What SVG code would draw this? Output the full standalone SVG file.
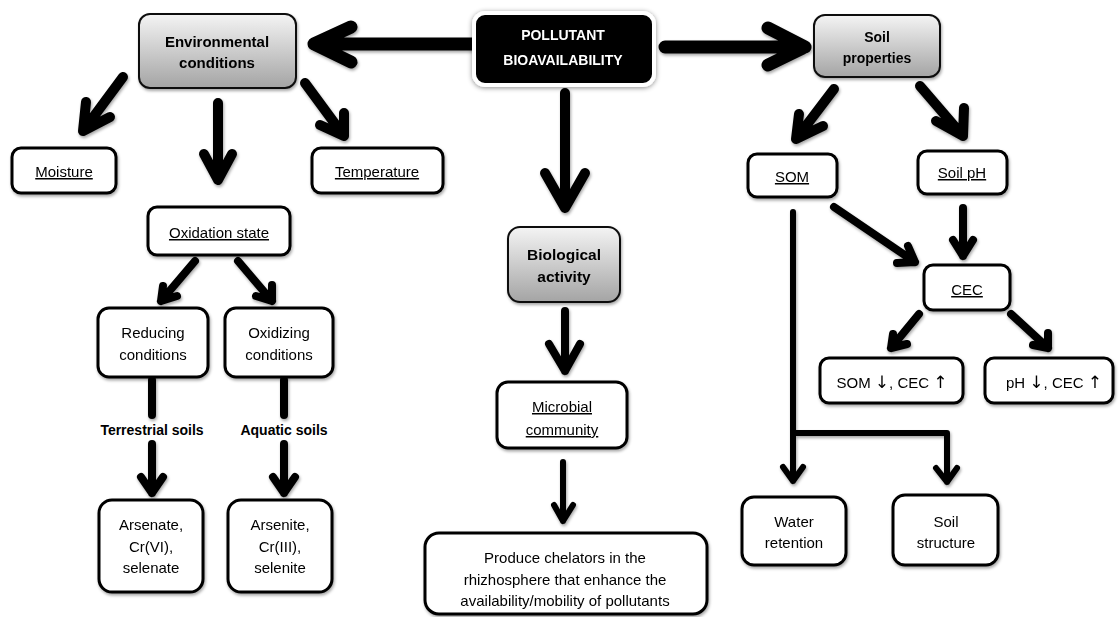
<svg xmlns="http://www.w3.org/2000/svg" width="1120" height="617" viewBox="0 0 1120 617">
<defs>
<linearGradient id="gray" x1="0" y1="0" x2="0" y2="1">
<stop offset="0" stop-color="#f4f4f4"/>
<stop offset="1" stop-color="#a4a4a4"/>
</linearGradient>
<filter id="sh" x="-20%" y="-20%" width="140%" height="150%">
<feDropShadow dx="1" dy="2" stdDeviation="1.5" flood-color="#000" flood-opacity="0.35"/>
</filter>
<filter id="glow" x="-20%" y="-30%" width="140%" height="160%">
<feDropShadow dx="0" dy="1" stdDeviation="2.5" flood-color="#000" flood-opacity="0.45"/>
</filter>
</defs>
<style>
.box{fill:#fff;stroke:#000;stroke-width:3}
.gbox{fill:url(#gray);stroke:#111;stroke-width:2}
.t{font-family:"Liberation Sans",Arial,sans-serif;font-size:15px;fill:#000;text-anchor:middle}
.b{font-family:"Liberation Sans",Arial,sans-serif;font-size:14px;font-weight:bold;fill:#000;text-anchor:middle}
.b15{font-size:15px}
.b16{font-size:15.5px}
.w{fill:#fff}
.u{text-decoration:underline}
.ar{font-family:"DejaVu Sans",sans-serif;font-size:17px}
.a{fill:none;stroke:#000;stroke-linecap:round;stroke-linejoin:round}
.a13{stroke-width:13}
.a10{stroke-width:10}
.a8{stroke-width:8}
.a6{stroke-width:6}
</style>
<rect width="1120" height="617" fill="#fff"/>

<g id="connectors" filter="url(#sh)">
<path class="a a13" d="M472 44 L314 44 M351 27 L314 44 L351 62"/>
<path class="a a13" d="M665 47 L805 47 M768 28 L805 47 L768 65"/>
<path class="a a10" d="M565 93 L565 208 M545 173 L565 208 L585 173"/>
<path class="a a10" d="M123 77 L83 131 M86 102 L83 131 L110 117"/>
<path class="a a10" d="M218 103 L218 180 M204 154 L218 180 L232 154"/>
<path class="a a10" d="M305 83 L344 136 M320 125 L344 136 L344 113"/>
<path class="a a10" d="M834 89 L796 139 M799 114 L796 139 L823 126"/>
<path class="a a10" d="M920 86 L963 136 M936 121 L963 136 L964 108"/>
<path class="a a8" d="M195 261 L161 301 M163 286 L161 301 L177 296"/>
<path class="a a8" d="M238 261 L272 301 M256 296 L272 301 L272 285"/>
<path class="a a8" d="M152 380 L152 415 M284 380 L284 415"/>
<path class="a a8" d="M152 444 L152 493 M141 477 L152 493 L163 477"/>
<path class="a a8" d="M284 444 L284 493 M273 477 L284 493 L295 477"/>
<path class="a a8" d="M565 311 L565 371 M549 344 L565 371 L580 344"/>
<path class="a a6" d="M563 462 L563 521 M554 505 L563 521 L573 505"/>
<path class="a a8" d="M834 207 L915 262 M897 263 L915 262 L908 246"/>
<path class="a a8" d="M963 208 L963 256 M953 240 L963 256 L973 240"/>
<path class="a a8" d="M919 314 L891 348 M893 334 L891 348 L907 344"/>
<path class="a a8" d="M1011 314 L1048 348 M1033 345 L1048 348 L1048 333"/>
<path class="a a6" d="M793 212 L793 481 M793 433 L947 433 L947 482 M783 467 L793 481 L803 467 M936 468 L947 482 L957 468"/>
</g>

<g id="n-pollutant" filter="url(#glow)">
<rect x="474" y="13" width="180" height="72" rx="11" fill="#000" stroke="#fff" stroke-width="4"/>
<text class="b w" x="563" y="40">POLLUTANT</text>
<text class="b w" x="563" y="65">BIOAVAILABILITY</text>
</g>
<g id="n-env" filter="url(#sh)">
<rect class="gbox" x="139" y="14" width="157" height="74" rx="11"/>
<text class="b b15" x="217" y="47">Environmental</text>
<text class="b b15" x="217" y="68">conditions</text>
</g>
<g id="n-soilprop" filter="url(#sh)">
<rect class="gbox" x="814" y="15" width="126" height="62" rx="11"/>
<text class="b" x="877" y="42">Soil</text>
<text class="b" x="877" y="63">properties</text>
</g>
<g id="n-moisture" filter="url(#sh)">
<rect class="box" x="12" y="148" width="104" height="45" rx="9"/>
<text class="t u" x="64" y="177">Moisture</text>
</g>
<g id="n-temp" filter="url(#sh)">
<rect class="box" x="312" y="148" width="131" height="45" rx="9"/>
<text class="t u" x="377" y="177">Temperature</text>
</g>
<g id="n-oxstate" filter="url(#sh)">
<rect class="box" x="148" y="207" width="142" height="48" rx="9"/>
<text class="t u" x="219" y="238">Oxidation state</text>
</g>
<g id="n-reducing" filter="url(#sh)">
<rect class="box" x="98" y="308" width="110" height="69" rx="11"/>
<text class="t" x="153" y="338">Reducing</text>
<text class="t" x="153" y="360">conditions</text>
</g>
<g id="n-oxidizing" filter="url(#sh)">
<rect class="box" x="225" y="308" width="108" height="69" rx="11"/>
<text class="t" x="279" y="338">Oxidizing</text>
<text class="t" x="279" y="360">conditions</text>
</g>
<g id="l-terrestrial">
<text class="b" x="152" y="435">Terrestrial soils</text>
</g>
<g id="l-aquatic">
<text class="b" x="284" y="435">Aquatic soils</text>
</g>
<g id="n-arsenate" filter="url(#sh)">
<rect class="box" x="99" y="500" width="104" height="92" rx="13"/>
<text class="t" x="151" y="530">Arsenate,</text>
<text class="t" x="151" y="552">Cr(VI),</text>
<text class="t" x="151" y="573">selenate</text>
</g>
<g id="n-arsenite" filter="url(#sh)">
<rect class="box" x="228" y="500" width="104" height="92" rx="13"/>
<text class="t" x="280" y="530">Arsenite,</text>
<text class="t" x="280" y="552">Cr(III),</text>
<text class="t" x="280" y="573">selenite</text>
</g>
<g id="n-bio" filter="url(#sh)">
<rect class="gbox" x="508" y="227" width="112" height="75" rx="12"/>
<text class="b b16" x="564" y="260">Biological</text>
<text class="b b16" x="564" y="282">activity</text>
</g>
<g id="n-microbial" filter="url(#sh)">
<rect class="box" x="497" y="382" width="130" height="66" rx="11"/>
<text class="t u" x="562" y="412">Microbial</text>
<text class="t u" x="562" y="435">community</text>
</g>
<g id="n-produce" filter="url(#sh)">
<rect class="box" x="425" y="533" width="282" height="81" rx="14"/>
<text class="t" x="565" y="563">Produce chelators in the</text>
<text class="t" x="565" y="585">rhizhosphere that enhance the</text>
<text class="t" x="565" y="606">availability/mobility of pollutants</text>
</g>
<g id="n-som" filter="url(#sh)">
<rect class="box" x="748" y="154" width="89" height="43" rx="9"/>
<text class="t u" x="792" y="182">SOM</text>
</g>
<g id="n-soilph" filter="url(#sh)">
<rect class="box" x="918" y="151" width="89" height="43" rx="9"/>
<text class="t u" x="962" y="178">Soil pH</text>
</g>
<g id="n-cec" filter="url(#sh)">
<rect class="box" x="924" y="265" width="86" height="45" rx="9"/>
<text class="t u" x="967" y="295">CEC</text>
</g>
<g id="n-somcec" filter="url(#sh)">
<rect class="box" x="820" y="358" width="143" height="45" rx="9"/>
<text class="t" x="892" y="388">SOM <tspan class="ar">↓</tspan>, CEC <tspan class="ar">↑</tspan></text>
</g>
<g id="n-phcec" filter="url(#sh)">
<rect class="box" x="985" y="358" width="128" height="45" rx="9"/>
<text class="t" x="1054" y="388">pH <tspan class="ar">↓</tspan>, CEC <tspan class="ar">↑</tspan></text>
</g>
<g id="n-water" filter="url(#sh)">
<rect class="box" x="742" y="497" width="104" height="68" rx="12"/>
<text class="t" x="794" y="527">Water</text>
<text class="t" x="794" y="548">retention</text>
</g>
<g id="n-structure" filter="url(#sh)">
<rect class="box" x="893" y="495" width="105" height="70" rx="12"/>
<text class="t" x="946" y="527">Soil</text>
<text class="t" x="946" y="548">structure</text>
</g>
</svg>
